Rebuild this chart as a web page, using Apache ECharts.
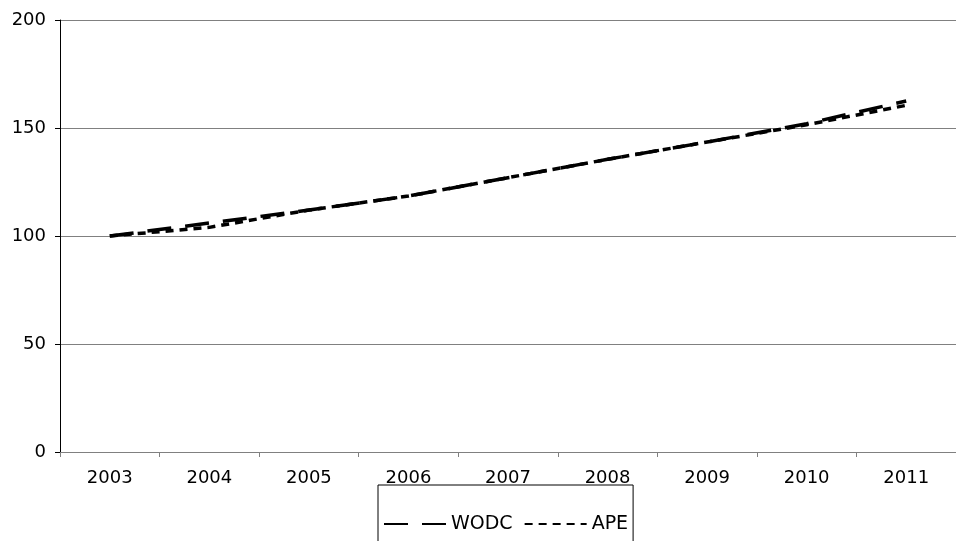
<!DOCTYPE html>
<html>
<head>
<meta charset="utf-8">
<script src="https://cdn.jsdelivr.net/npm/echarts@6/dist/echarts.min.js"></script>
<style>
  html, body { margin: 0; padding: 0; background: #fff; }
  #chart { width: 956px; height: 541px; }
</style>
</head>
<body>
<div id="chart"></div>
<script>
// Index values per year (2003 = 100)
const years = ['2003', '2004', '2005', '2006', '2007', '2008', '2009', '2010', '2011'];
const wodc = [100, 106, 112, 118.5, 127, 135.5, 143.5, 152, 162.5];
const ape = [100, 104, 112, 118.5, 127, 135.5, 143.5, 151.5, 160.5];
const yTicks = { min: 0, max: 200, interval: 50 };

const font = '"DejaVu Sans", Verdana, sans-serif';
const chart = echarts.init(document.getElementById('chart'), null, { renderer: 'canvas' });

chart.setOption({
  animation: false,
  backgroundColor: '#ffffff',
  grid: { left: 60, top: 20, right: -9, bottom: 89, containLabel: false },
  legend: {
    left: 378,
    top: 485,
    orient: 'horizontal',
    itemWidth: 62,
    itemHeight: 20,
    itemGap: 11,
    padding: [29, 5, 30, 5],
    borderColor: '#000000',
    borderWidth: 1,
    itemStyle: { color: 'rgba(0,0,0,0)', borderWidth: 0 },
    textStyle: { fontFamily: font, fontSize: 19, color: '#000', lineHeight: 20 },
    data: ['WODC', 'APE']
  },
  xAxis: {
    type: 'category',
    data: years,
    boundaryGap: true,
    axisLine: { lineStyle: { color: '#808080', width: 1 } },
    axisTick: { show: true, length: 5, lineStyle: { color: '#808080' } },
    axisLabel: { fontFamily: font, fontSize: 18, color: '#000', margin: 17 },
    splitLine: { show: false }
  },
  yAxis: {
    type: 'value',
    min: yTicks.min,
    max: yTicks.max,
    interval: yTicks.interval,
    axisLine: { show: true, lineStyle: { color: '#000', width: 1 } },
    axisTick: { show: true, length: 5, lineStyle: { color: '#000' } },
    axisLabel: { fontFamily: font, fontSize: 18, color: '#000', margin: 14 },
    splitLine: { show: true, lineStyle: { color: '#808080', width: 1 } }
  },
  series: [
    {
      name: 'WODC',
      type: 'line',
      data: wodc,
      symbol: 'none',
      itemStyle: { color: '#000' },
      lineStyle: { color: '#000', width: 3.5, type: [24, 14] }
    },
    {
      name: 'APE',
      type: 'line',
      data: ape,
      symbol: 'none',
      itemStyle: { color: '#000' },
      lineStyle: { color: '#000', width: 3.5, type: [8, 6] }
    }
  ]
});
</script>
</body>
</html>
